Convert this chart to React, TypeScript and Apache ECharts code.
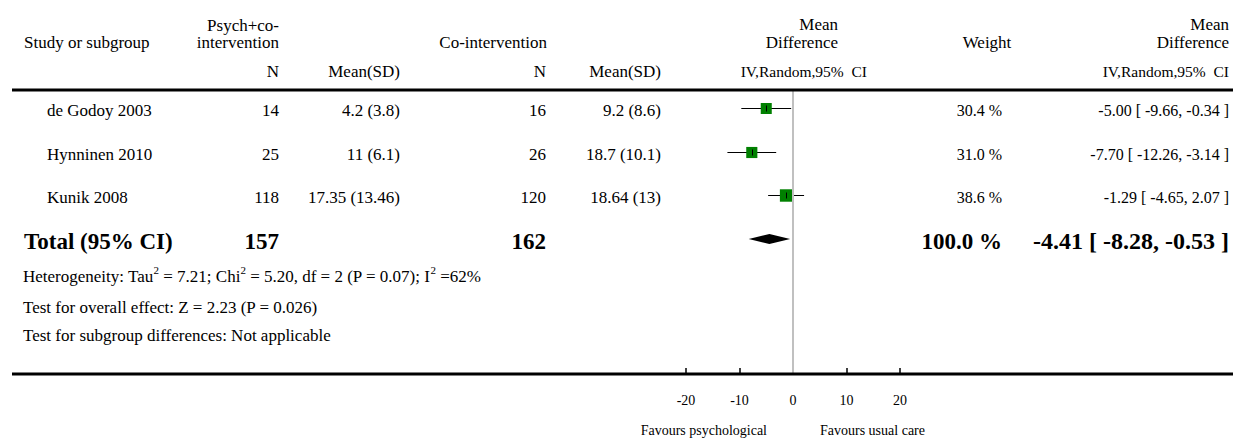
import React, { useEffect, useRef } from "react";
import * as echarts from "echarts";

// ---- data ----
const studies = ["de Godoy 2003", "Hynninen 2010", "Kunik 2008"];
const expN = [14, 25, 118];
const expMeanSD = ["4.2 (3.8)", "11 (6.1)", "17.35 (13.46)"];
const ctrlN = [16, 26, 120];
const ctrlMeanSD = ["9.2 (8.6)", "18.7 (10.1)", "18.64 (13)"];
const meanDiff = [-5.0, -7.7, -1.29];
const ciLow = [-9.66, -12.26, -4.65];
const ciHigh = [-0.34, -3.14, 2.07];
const weights = [30.4, 31.0, 38.6];

const totalLabel = "Total (95% CI)";
const totalExpN = 157;
const totalCtrlN = 162;
const totalMD = -4.41;
const totalLow = -8.28;
const totalHigh = -0.53;
const totalWeight = 100.0;

const axisTicks = [-20, -10, 0, 10, 20];
const favoursLeft = "Favours psychological";
const favoursRight = "Favours usual care";

const FONT = '"Liberation Serif", "Times New Roman", serif';
const FS = 17;

const fmtCI = (m: number, l: number, h: number) =>
  `${m.toFixed(2)} [ ${l.toFixed(2)}, ${h.toFixed(2)} ]`;

export default function App() {
  const ref = useRef<HTMLDivElement>(null);

  useEffect(() => {
    if (!ref.current) return;
    const chart = echarts.init(ref.current, undefined, { renderer: "svg" });

    const studyData = studies.map((_, i) => [meanDiff[i], i, ciLow[i], ciHigh[i], weights[i]]);
    const rowY = (api: any, row: number) => Math.round(api.coord([0, row])[1]) + 0.5;

    const txt = (x: number, y: number, text: string, align: string, extra: any = {}) => ({
      type: "text",
      x,
      y,
      style: {
        text,
        align,
        verticalAlign: "middle",
        fontFamily: FONT,
        fontSize: FS,
        fill: "#000",
        ...extra,
      },
    });

    const hdr = (x: number, y: number, text: string, align: string, extra: any = {}) => ({
      type: "text",
      x,
      y,
      silent: true,
      style: {
        text,
        align,
        verticalAlign: "middle",
        fontFamily: FONT,
        fontSize: FS,
        fill: "#000",
        ...extra,
      },
    });

    const textY = 2;

    chart.setOption({
      animation: false,
      grid: { left: 686, right: 334, top: 90, bottom: 65, containLabel: false },
      xAxis: {
        type: "value",
        min: axisTicks[0],
        max: axisTicks[axisTicks.length - 1],
        interval: 10,
        axisLine: { show: false, onZero: false },
        axisTick: { show: true, inside: true, length: 6, lineStyle: { color: "#000", width: 1.5 } },
        axisLabel: {
          margin: 19,
          fontFamily: FONT,
          fontSize: 14,
          color: "#000",
        },
        splitLine: { show: false },
      },
      yAxis: {
        type: "value",
        min: -0.412,
        max: 6.091,
        inverse: true,
        show: false,
      },
      series: [
        {
          type: "custom",
          name: "zero",
          data: [[0, 0]],
          renderItem: () => ({ type: "group", children: [] }),
          markLine: {
            silent: true,
            symbol: "none",
            label: { show: false },
            lineStyle: { color: "#c0c0c0", width: 2, type: "solid" },
            data: [{ xAxis: 0 }],
          },
        },
        {
          type: "custom",
          name: "studies",
          clip: false,
          data: studyData,
          renderItem: (params: any, api: any) => {
            const row = api.value(1);
            const y = rowY(api, row);
            const c = api.coord([api.value(0), row]);
            const l = api.coord([api.value(2), row]);
            const h = api.coord([api.value(3), row]);
            const s = 2 * Math.sqrt(api.value(4));
            const cx = Math.round(c[0]) + 0.5;
            return {
              type: "group",
              children: [
                { type: "line", shape: { x1: l[0], y1: y, x2: h[0], y2: y }, style: { stroke: "#000", lineWidth: 1 } },
                { type: "rect", shape: { x: c[0] - s / 2, y: y - s / 2, width: s, height: s }, style: { fill: "#008000" } },
                { type: "line", shape: { x1: cx, y1: y - 3, x2: cx, y2: y + 3 }, style: { stroke: "#000", lineWidth: 1 } },
              ],
            };
          },
        },
        {
          type: "custom",
          name: "studyText",
          clip: false,
          data: studies.map((_, i) => [0, i]),
          renderItem: (params: any, api: any) => {
            const i = params.dataIndex;
            const y = rowY(api, api.value(1)) + textY;
            return {
              type: "group",
              children: [
                txt(47, y, studies[i], "left"),
                txt(279, y, String(expN[i]), "right"),
                txt(400, y, expMeanSD[i], "right"),
                txt(546, y, String(ctrlN[i]), "right"),
                txt(661, y, ctrlMeanSD[i], "right"),
                txt(1002, y, `${weights[i].toFixed(1)} %`, "right", { fontSize: 16 }),
                txt(1229, y, fmtCI(meanDiff[i], ciLow[i], ciHigh[i]), "right", { fontSize: 16 }),
              ],
            };
          },
        },
        {
          type: "custom",
          name: "total",
          clip: false,
          data: [[totalMD, studies.length, totalLow, totalHigh]],
          renderItem: (params: any, api: any) => {
            const row = api.value(1);
            const y = api.coord([0, row])[1];
            const c = api.coord([api.value(0), row])[0];
            const l = api.coord([api.value(2), row])[0];
            const h = api.coord([api.value(3), row])[0];
            const ty = y + textY;
            const bold = { fontWeight: "bold", fontSize: 23 };
            return {
              type: "group",
              children: [
                {
                  type: "polygon",
                  shape: { points: [[l, y], [c, y - 5], [h, y], [c, y + 5]] },
                  style: { fill: "#000" },
                },
                txt(24, ty, totalLabel, "left", bold),
                txt(279, ty, String(totalExpN), "right", bold),
                txt(546, ty, String(totalCtrlN), "right", bold),
                txt(1002, ty, `${totalWeight.toFixed(1)} %`, "right", bold),
                txt(1229, ty, fmtCI(totalMD, totalLow, totalHigh), "right", { fontWeight: "bold", fontSize: 24 }),
              ],
            };
          },
        },
      ],
      graphic: [
        // rules
        { type: "line", shape: { x1: 12, y1: 90, x2: 1233, y2: 90 }, style: { stroke: "#000", lineWidth: 3 }, z: 10 },
        { type: "line", shape: { x1: 12, y1: 374, x2: 1233, y2: 374 }, style: { stroke: "#000", lineWidth: 3 }, z: 10 },
        // headers
        hdr(24, 42, "Study or subgroup", "left"),
        hdr(279, 25, "Psych+co-", "right"),
        hdr(279, 42, "intervention", "right"),
        hdr(279, 71, "N", "right"),
        hdr(400, 71, "Mean(SD)", "right"),
        hdr(547, 42, "Co-intervention", "right"),
        hdr(546, 71, "N", "right"),
        hdr(661, 71, "Mean(SD)", "right"),
        hdr(838, 24, "Mean", "right"),
        hdr(838, 42, "Difference", "right"),
        hdr(867, 71, "IV,Random,95%  CI", "right", { fontSize: 15.5 }),
        hdr(987, 42, "Weight", "center"),
        hdr(1229, 24, "Mean", "right"),
        hdr(1229, 42, "Difference", "right"),
        hdr(1229, 71, "IV,Random,95%  CI", "right", { fontSize: 15.5 }),
        // footnotes
        {
          type: "text",
          x: 23,
          y: 276,
          style: {
            text: "{n|Heterogeneity: Tau}{s|2}{n| = 7.21; Chi}{s|2}{n| = 5.20, df = 2 (P = 0.07); I}{s|2}{n| =62%}",
            verticalAlign: "middle",
            align: "left",
            rich: {
              n: { fontFamily: FONT, fontSize: FS, fill: "#000", lineHeight: 24, verticalAlign: "middle" },
              s: { fontFamily: FONT, fontSize: 11, fill: "#000", lineHeight: 13, verticalAlign: "top" },
            },
          },
        },
        hdr(23, 307, "Test for overall effect: Z = 2.23 (P = 0.026)", "left"),
        hdr(23, 335, "Test for subgroup differences: Not applicable", "left"),
        // favours labels
        hdr(767, 430, favoursLeft, "right", { fontSize: 14 }),
        hdr(820, 430, favoursRight, "left", { fontSize: 14 }),
      ],
    });

    return () => chart.dispose();
  }, []);

  return (
    <div
      ref={ref}
      style={{ position: "absolute", left: 0, top: 0, width: 1234, height: 439, background: "#fff" }}
    />
  );
}
